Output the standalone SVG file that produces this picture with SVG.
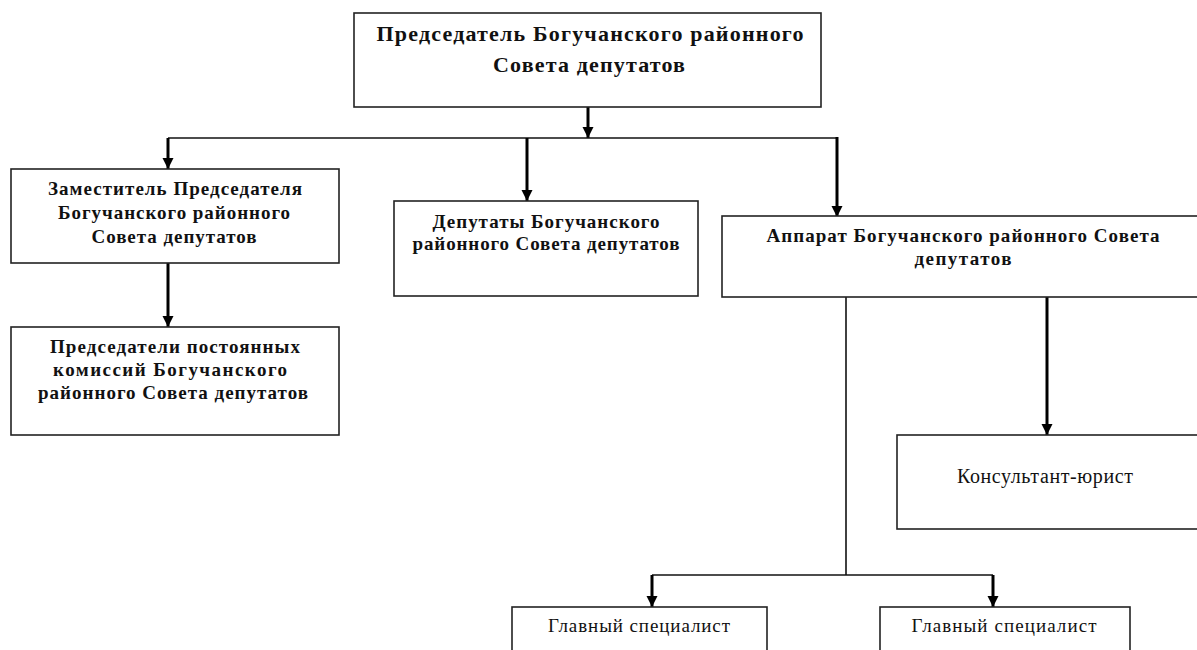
<svg xmlns="http://www.w3.org/2000/svg" width="1197" height="650" viewBox="0 0 1197 650">
<style>
.box{fill:#fff;stroke:#222;stroke-width:1.6}
.b{font-family:"Liberation Serif","Times New Roman",serif;font-weight:bold;fill:#111;text-anchor:middle}
.r{font-family:"Liberation Serif","Times New Roman",serif;fill:#111;text-anchor:middle}
.thick{stroke:#000;stroke-width:3;fill:none}
.thin{stroke:#111;stroke-width:1.6;fill:none}
</style>
<defs>
<marker id="ah" markerUnits="userSpaceOnUse" markerWidth="12" markerHeight="12" viewBox="0 0 12 12" refX="11" refY="6" orient="auto">
<path d="M0,0.5 L11,6 L0,11.5 Z" fill="#000"/>
</marker>
</defs>
<rect width="1197" height="650" fill="#fff"/>
<g id="connectors">
<line class="thick" x1="588" y1="107" x2="588" y2="138" marker-end="url(#ah)"/>
<polyline class="thin" points="168,138 837,138"/>
<line class="thick" x1="168" y1="138" x2="168" y2="169" marker-end="url(#ah)"/>
<line class="thick" x1="527" y1="138" x2="527" y2="201" marker-end="url(#ah)"/>
<line class="thick" x1="837" y1="137" x2="837" y2="217" marker-end="url(#ah)"/>
<line class="thick" x1="168" y1="263" x2="168" y2="327" marker-end="url(#ah)"/>
<polyline class="thin" points="846,297 846,575"/>
<polyline class="thin" points="652,575 993,575"/>
<line class="thick" x1="652" y1="575" x2="652" y2="607" marker-end="url(#ah)"/>
<line class="thick" x1="993" y1="575" x2="993" y2="607" marker-end="url(#ah)"/>
<line class="thick" x1="1047" y1="293" x2="1047" y2="435" marker-end="url(#ah)"/>
</g>
<g id="chairman">
<rect class="box" x="354" y="13" width="467" height="94"/>
<text class="b" font-size="22" x="590" y="41" textLength="427">Председатель Богучанского районного</text>
<text class="b" font-size="22" x="589" y="72" textLength="192">Совета депутатов</text>
</g>
<g id="deputy-chairman">
<rect class="box" x="11" y="169" width="328" height="94"/>
<text class="b" font-size="19" x="175" y="195" textLength="254">Заместитель Председателя</text>
<text class="b" font-size="19" x="174" y="219" textLength="232">Богучанского районного</text>
<text class="b" font-size="19" x="174" y="243" textLength="165">Совета депутатов</text>
</g>
<g id="commission-chairs">
<rect class="box" x="11" y="327" width="328" height="108"/>
<text class="b" font-size="19" x="175" y="353" textLength="250">Председатели постоянных</text>
<text class="b" font-size="19" x="170" y="376" textLength="234">комиссий Богучанского</text>
<text class="b" font-size="19" x="173" y="399" textLength="270">районного Совета депутатов</text>
</g>
<g id="deputies">
<rect class="box" x="394" y="201" width="304" height="95"/>
<text class="b" font-size="19" x="546" y="228" textLength="227">Депутаты Богучанского</text>
<text class="b" font-size="19" x="546" y="250" textLength="267">районного Совета депутатов</text>
</g>
<g id="apparatus">
<rect class="box" x="722" y="216" width="480" height="81"/>
<text class="b" font-size="19" x="963" y="242" textLength="393">Аппарат Богучанского районного Совета</text>
<text class="b" font-size="19" x="963" y="265" textLength="97">депутатов</text>
</g>
<g id="consultant">
<rect class="box" x="897" y="435" width="305" height="94"/>
<text class="r" font-size="20" x="1045" y="483" textLength="176">Консультант-юрист</text>
</g>
<g id="specialist-1">
<rect class="box" x="512" y="607" width="255" height="60"/>
<text class="r" font-size="19" x="639" y="632" textLength="182">Главный специалист</text>
</g>
<g id="specialist-2">
<rect class="box" x="880" y="607" width="250" height="60"/>
<text class="r" font-size="19" x="1004" y="632" textLength="185">Главный специалист</text>
</g>
</svg>
